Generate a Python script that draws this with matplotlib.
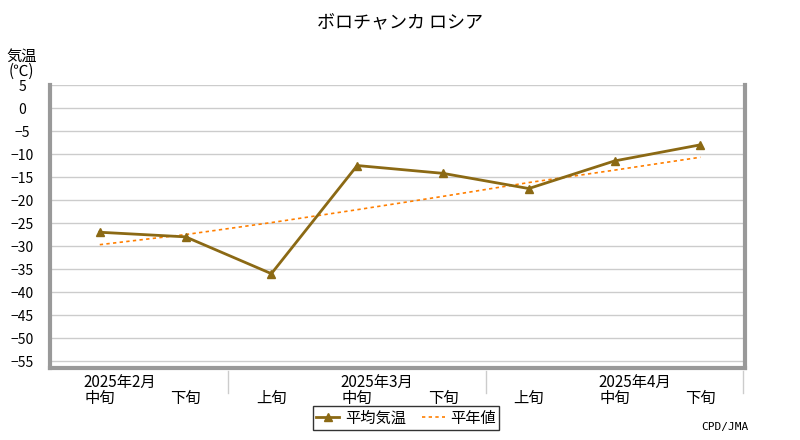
import matplotlib
matplotlib.use("Agg")
import matplotlib.pyplot as plt
from matplotlib.lines import Line2D

plt.rcParams["font.family"] = ["Noto Sans CJK JP", "DejaVu Sans"]

periods = ["中旬", "下旬", "上旬", "中旬", "下旬", "上旬", "中旬", "下旬"]
months = ["2025年2月", "2025年3月", "2025年4月"]
month_centers = [0.23, 3.23, 6.23]
separators = [1.5, 4.5, 7.5]
mean_temp = [-27.0, -28.0, -36.0, -12.5, -14.2, -17.5, -11.5, -8.0]
normal = [-29.7, -27.5, -24.9, -22.1, -19.2, -16.2, -13.5, -10.7]
yticks = list(range(5, -60, -5))

fig = plt.figure(figsize=(8, 4.4), dpi=100)
ax = fig.add_axes([50/800, 1-368/440, 695/800, 283/440])
x = list(range(len(periods)))
ax.plot(x, normal, color="#ff7f00", ls=(0, (2, 2)), lw=1.2, zorder=2)
ax.plot(x, mean_temp, color="#8b6914", lw=2, marker="^", ms=6, zorder=3)
ax.set_xlim(-0.58, 7.52)
ax.set_ylim(-56.5, 5)
ax.set_yticks(yticks)
ax.set_yticklabels([str(v).replace("-", "−") for v in yticks], fontsize=10)
ax.yaxis.grid(True, color="#cccccc", lw=1)
ax.set_axisbelow(True)
ax.tick_params(axis="y", length=0, pad=20)
for l in ax.get_yticklabels():
    l.set_horizontalalignment("center")
ax.set_xticks(x)
ax.set_xticklabels(periods, fontsize=11)
ax.tick_params(axis="x", length=0, pad=16)
for s in ["left", "bottom", "right"]:
    ax.spines[s].set_color("#999999")
    ax.spines[s].set_linewidth(3)
ax.spines["top"].set_visible(False)
for mc, m in zip(month_centers, months):
    ax.text(mc, -0.02, m, transform=ax.get_xaxis_transform(), ha="center", va="top", fontsize=11)
for s in separators:
    ax.plot([s, s], [-0.01, -0.09], transform=ax.get_xaxis_transform(), color="#cccccc", lw=1, clip_on=False)

fig.text(0.5, 0.95, "ボロチャンカ ロシア", ha="center", va="center", fontsize=13)
fig.text(0.027, 0.855, "気温\n(℃)", ha="center", va="center", fontsize=11, linespacing=0.9)
fig.text(0.935, 0.03, "CPD/JMA", ha="right", va="center", fontsize=8, family="DejaVu Sans Mono")
handles = [Line2D([], [], color="#8b6914", lw=2, marker="^", ms=6),
           Line2D([], [], color="#ff7f00", ls=(0, (2, 2)), lw=1.2)]
fig.legend(handles, ["平均気温", "平年値"], loc="center", bbox_to_anchor=(0.508, 0.05), ncol=2,
           fontsize=11, frameon=True, fancybox=False, edgecolor="black", handlelength=1.5,
           borderpad=0.2, columnspacing=1.0, handletextpad=0.4)
fig.savefig("out.png", dpi=100)
